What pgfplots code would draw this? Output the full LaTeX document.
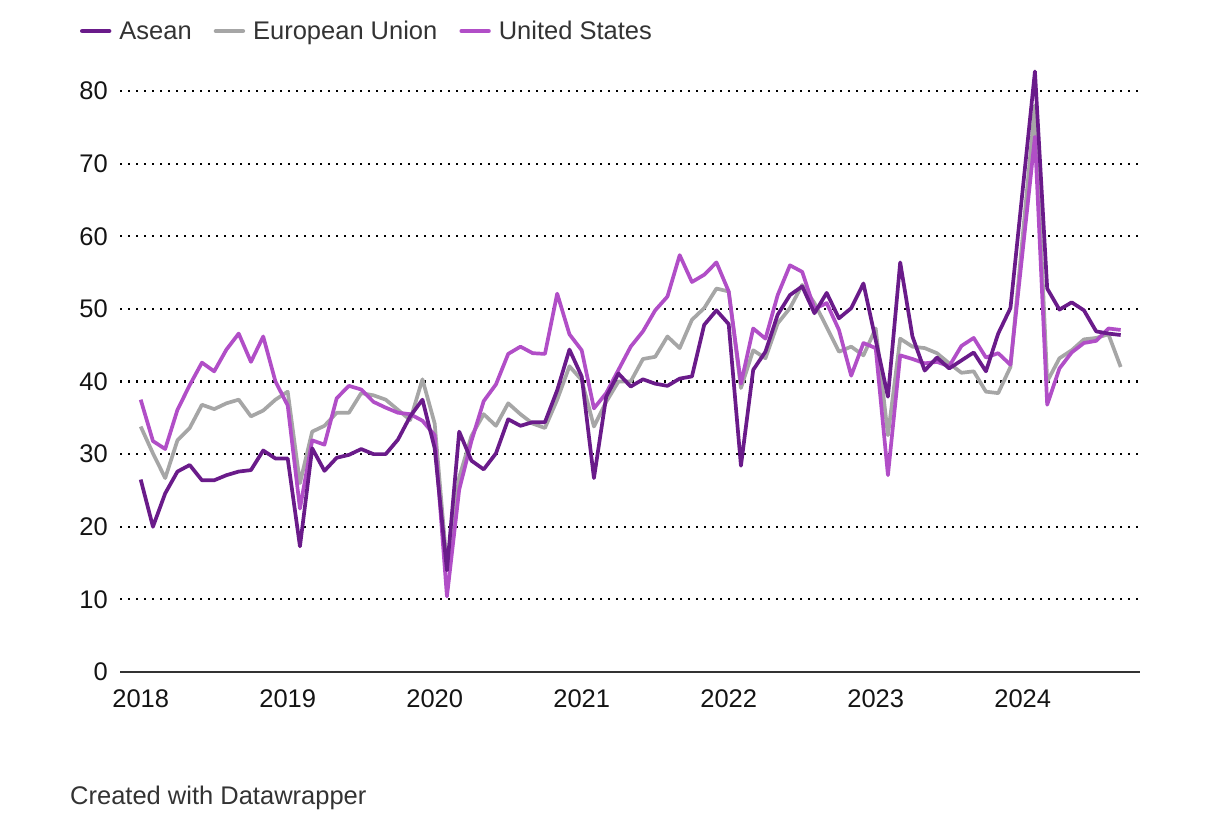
\documentclass[border=0pt]{standalone}
\usepackage{fontspec}
\setmainfont{Liberation Sans}
\usepackage{pgfplots}
\pgfplotsset{compat=1.18}
\usepackage{pgfplotstable}

\definecolor{asean}{RGB}{106,27,138}
\definecolor{eu}{RGB}{166,166,166}
\definecolor{us}{RGB}{177,78,199}
\definecolor{txt}{RGB}{51,51,51}

\pgfplotstableread{
m asean eu us
0 26.5 33.8 37.5
1 20.0 30.1 31.8
2 24.6 26.7 30.7
3 27.6 31.9 36.1
4 28.5 33.6 39.5
5 26.4 36.8 42.6
6 26.4 36.2 41.4
7 27.1 37.0 44.4
8 27.6 37.5 46.6
9 27.8 35.2 42.7
10 30.5 36.0 46.2
11 29.4 37.5 40.0
12 29.4 38.6 36.7
13 17.3 26.0 22.5
14 30.8 33.1 31.9
15 27.7 33.9 31.3
16 29.5 35.7 37.7
17 29.9 35.7 39.4
18 30.7 38.4 38.9
19 30.0 38.1 37.2
20 30.0 37.5 36.4
21 32.0 36.1 35.7
22 35.2 34.7 35.5
23 37.5 40.3 34.6
24 30.8 34.2 32.6
25 14.0 14.5 10.4
26 33.1 26.8 25.1
27 29.1 32.5 31.8
28 27.9 35.5 37.3
29 30.1 33.9 39.6
30 34.8 37.0 43.8
31 33.9 35.5 44.8
32 34.4 34.2 43.9
33 34.4 33.6 43.8
34 38.8 37.5 52.1
35 44.4 42.1 46.5
36 40.7 40.2 44.3
37 26.7 33.8 36.3
38 37.9 37.2 38.4
39 41.1 40.0 41.6
40 39.3 40.0 44.8
41 40.3 43.1 46.9
42 39.7 43.4 49.8
43 39.4 46.2 51.7
44 40.4 44.6 57.4
45 40.7 48.5 53.7
46 47.8 50.1 54.7
47 49.8 52.8 56.4
48 47.9 52.4 52.4
49 28.4 39.1 39.7
50 41.6 44.3 47.3
51 44.1 43.2 45.9
52 49.2 48.0 51.9
53 51.9 50.1 56.0
54 53.1 53.3 55.1
55 49.4 50.8 50.0
56 52.2 47.5 50.8
57 48.7 44.1 47.1
58 50.1 44.8 40.8
59 53.5 43.6 45.3
60 45.7 47.3 44.6
61 37.9 32.6 27.1
62 56.4 45.9 43.6
63 46.2 44.8 43.1
64 41.5 44.6 42.5
65 43.3 43.9 42.7
66 41.8 42.5 42.1
67 42.9 41.2 44.9
68 44.0 41.4 46.0
69 41.4 38.6 43.3
70 46.6 38.4 43.9
71 50.1 42.0 42.3
72 66.4 60.0 58.0
73 82.7 78.0 73.7
74 52.8 40.0 36.8
75 49.9 43.2 41.8
76 50.9 44.3 44.0
77 49.8 45.8 45.3
78 46.9 46.0 45.6
79 46.6 46.5 47.3
80 46.4 42.0 47.1
}\datatable

\begin{document}
\begin{tikzpicture}
\path (0,0) rectangle (1220pt,820pt);
\begin{axis}[
  at={(120pt,148pt)}, anchor=south west,
  scale only axis, width=1020pt, height=610.05pt,
  xmin=-1.69, xmax=81.58, ymin=0, ymax=84,
  axis x line*=bottom, axis y line*=left,
  y axis line style={draw=none},
  x axis line style={draw=txt, line width=2.4pt, -},
  xtick={0,12,...,72}, xticklabels={2018,2019,2020,2021,2022,2023,2024},
  ytick={0,10,...,80},
  major tick length=0pt,
  ymajorgrids, grid style={black, line width=2.2pt, dash pattern=on 2.2pt off 5.8pt},
  tick label style={font=\fontsize{25.5}{30}\selectfont, text=black!92, inner sep=0pt},
  xticklabel style={anchor=north, yshift=-17pt},
  yticklabel style={anchor=east, xshift=-12pt},
  /pgf/number format/assume math mode=true,
  legend style={at={(axis description cs:-0.0392,1.0507)}, anchor=west,
    draw=none, fill=none, inner sep=0pt, outer sep=0pt,
    font=\fontsize{25.5}{30}\selectfont, text=txt, legend columns=-1,
    /tikz/every odd column/.append style={column sep=8pt},
    /tikz/every even column/.append style={column sep=22pt},
    nodes={inner sep=0pt}},
  legend image code/.code={\draw[#1, line width=4.4pt, line cap=round] (2pt,0pt) -- (29pt,0pt);},
]
\addlegendimage{asean}\addlegendentry{Asean}
\addlegendimage{eu}\addlegendentry{European Union}
\addlegendimage{us}\addlegendentry{United States}
\addplot[eu, line width=3.7pt, line join=round, forget plot] table[x=m,y=eu]{\datatable};
\addplot[us, line width=3.7pt, line join=round, forget plot] table[x=m,y=us]{\datatable};
\addplot[asean, line width=3.7pt, line join=round, forget plot] table[x=m,y=asean]{\datatable};
\end{axis}
\node[anchor=base west, font=\fontsize{25.5}{30}\selectfont, text=txt, inner sep=0pt] at (70pt,16pt) {Created with Datawrapper};
\end{tikzpicture}
\end{document}
